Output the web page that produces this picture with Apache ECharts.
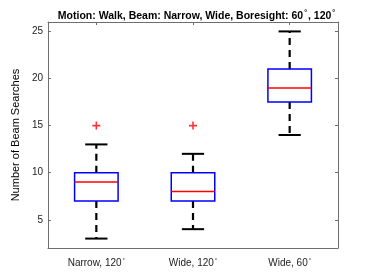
<!DOCTYPE html>
<html><head><meta charset="utf-8">
<script src="https://cdn.jsdelivr.net/npm/echarts@6/dist/echarts.min.js"></script>
<style>html,body{margin:0;padding:0;background:#fff}#c{width:374px;height:280px}</style>
</head><body><div id="c"></div>
<script>
const categories = ['Narrow, 120', 'Wide, 120', 'Wide, 60'];
// [low whisker, Q1, median, Q3, high whisker]
const boxNarrow120 = [3, 7, 9, 10, 13];
const boxWide120 = [4, 7, 8, 10, 12];
const boxWide60 = [14, 17.5, 19, 21, 25];
const outliers = [[0, 15], [1, 15]];
const yTicks = [5, 10, 15, 20, 25];
const titleText = 'Motion: Walk, Beam: Narrow, Wide, Boresight: 60';

const boxes = [boxNarrow120, boxWide120, boxWide60].map((b, i) => [i].concat(b));
const font = 'Liberation Sans, Arial, Helvetica, sans-serif';
const axisColor = '#6e6e6e';

const chart = echarts.init(document.getElementById('c'));
chart.setOption({
  animation: false,
  title: {
    text: '{t|' + titleText + '}{s|°}{t|, 120}{s|°}',
    left: 192, top: 5, textAlign: 'center',
    textStyle: {
      rich: {
        t: {fontFamily: font, fontWeight: 'bold', fontSize: 10.5, color: '#000'},
        s: {fontFamily: font, fontSize: 7, color: '#000', verticalAlign: 'top', padding: [0, 1, 6, 1]}
      }
    }
  },
  grid: {left: 48, right: 36, top: 22, bottom: 32},
  xAxis: [{
    type: 'category', data: categories, boundaryGap: true,
    axisLine: {lineStyle: {color: axisColor, width: 1}},
    axisTick: {inside: true, alignWithLabel: true, length: 3, lineStyle: {color: axisColor}},
    axisLabel: {
      interval: 0, margin: 9,
      formatter: v => '{t|' + v + '}{s|°}',
      rich: {
        t: {fontFamily: font, fontSize: 10, color: '#222'},
        s: {fontFamily: font, fontSize: 6, color: '#222', verticalAlign: 'top', padding: [0, 0, 6, 1]}
      }
    }
  }, {
    type: 'category', data: categories, position: 'top', boundaryGap: true,
    axisLine: {show: true, lineStyle: {color: axisColor, width: 1}},
    axisTick: {show: true, inside: true, alignWithLabel: true, interval: 0, length: 3, lineStyle: {color: axisColor}},
    axisLabel: {show: false, interval: 0}
  }],
  yAxis: [{
    type: 'value', min: 2, max: 26,
    name: 'Number of Beam Searches', nameLocation: 'middle', nameGap: 22,
    nameTextStyle: {fontFamily: font, fontSize: 11, color: '#000'},
    splitLine: {show: false},
    axisLine: {show: true, lineStyle: {color: axisColor, width: 1}},
    axisTick: {show: true, inside: true, length: 3, customValues: yTicks, lineStyle: {color: axisColor}},
    axisLabel: {customValues: yTicks, fontFamily: font, fontSize: 10, color: '#222', margin: 5}
  }, {
    type: 'value', min: 2, max: 26, position: 'right',
    splitLine: {show: false},
    axisLine: {show: true, lineStyle: {color: axisColor, width: 1}},
    axisTick: {show: true, inside: true, length: 3, customValues: yTicks, lineStyle: {color: axisColor}},
    axisLabel: {show: false, customValues: yTicks}
  }],
  series: [{
    type: 'custom',
    data: boxes,
    encode: {x: 0, y: [1, 2, 3, 4, 5]},
    renderItem: function (params, api) {
      const c = api.value(0);
      const band = api.size([1, 0])[0];
      const bw = band * 0.45, cw = band * 0.23;
      const pLow = api.coord([c, api.value(1)]);
      const pQ1 = api.coord([c, api.value(2)]);
      const pMed = api.coord([c, api.value(3)]);
      const pQ3 = api.coord([c, api.value(4)]);
      const pHigh = api.coord([c, api.value(5)]);
      const x = pMed[0];
      const dash = {stroke: '#000', lineWidth: 2.2, lineDash: [7, 5]};
      const solid = {stroke: '#000', lineWidth: 2};
      return {
        type: 'group',
        children: [
          {type: 'line', shape: {x1: x, y1: pQ3[1], x2: x, y2: pHigh[1]}, style: dash},
          {type: 'line', shape: {x1: x, y1: pQ1[1], x2: x, y2: pLow[1]}, style: dash},
          {type: 'line', shape: {x1: x - cw / 2, y1: pHigh[1], x2: x + cw / 2, y2: pHigh[1]}, style: solid},
          {type: 'line', shape: {x1: x - cw / 2, y1: pLow[1], x2: x + cw / 2, y2: pLow[1]}, style: solid},
          {type: 'rect', shape: {x: x - bw / 2, y: pQ3[1], width: bw, height: pQ1[1] - pQ3[1]},
            style: {fill: 'none', stroke: '#0000ff', lineWidth: 1.5}},
          {type: 'line', shape: {x1: x - bw / 2, y1: pMed[1], x2: x + bw / 2, y2: pMed[1]},
            style: {stroke: '#ff0000', lineWidth: 1.5}}
        ]
      };
    }
  }, {
    type: 'scatter',
    data: outliers,
    symbol: 'path://M4,0H6V4H10V6H6V10H4V6H0V4H4Z',
    symbolSize: 8,
    itemStyle: {color: '#ff0000'}
  }]
});
</script></body></html>
